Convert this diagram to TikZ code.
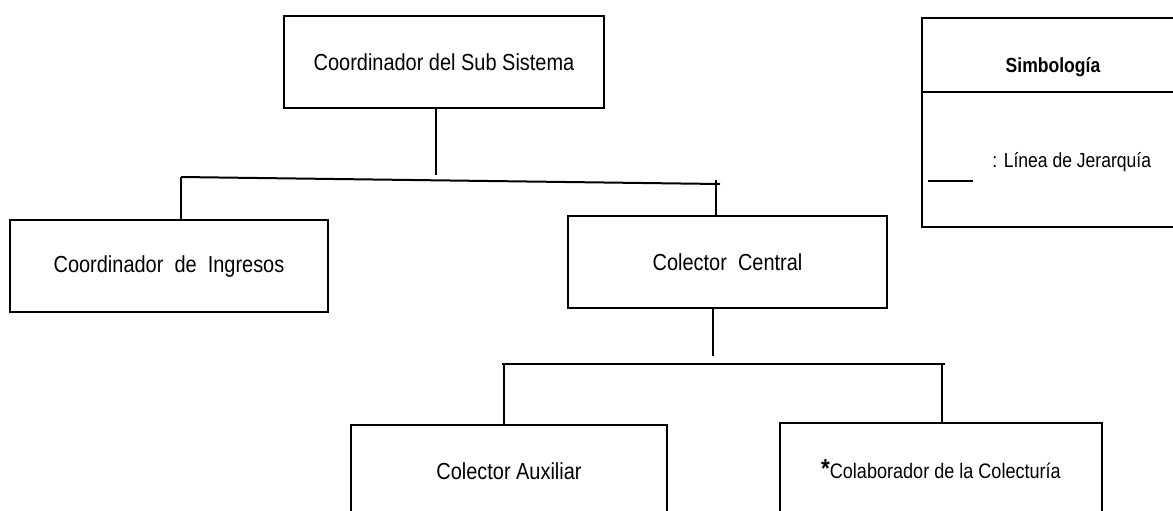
\documentclass[tikz,border=0pt]{standalone}
\usepackage{fontspec}
\setmainfont{Liberation Sans}[FakeStretch=0.86]
\usetikzlibrary{positioning}

\begin{document}
\begin{tikzpicture}[x=0.5pt, y=-0.5pt,
  unidad/.style={draw, line width=1pt, minimum width=160pt, minimum height=46pt,
                 inner sep=0pt, font=\fontsize{11.6}{13}\selectfont},
  linea/.style={line width=1pt},
  ley/.style={font=\fontsize{10.2}{12}\selectfont, inner sep=0pt}
]
\clip (0,0) rectangle (1173,510);
\fill[white] (0,0) rectangle (1173,510);

% unidades
\node[unidad] (sub) at (444,62) {Coordinador del Sub Sistema};
\node[unidad, minimum width=159pt] (ingresos) at (169,266) {Coordinador\ \ de\ \ Ingresos};
\node[unidad, minimum width=159.5pt] (central) at (727.5,262) {Colector\ \ Central};
\node[unidad, minimum width=158pt] (auxiliar) at (509,471) {Colector Auxiliar};
\node[unidad, minimum width=161pt] (colab) at (941,469)
  {\raisebox{0.5pt}{\fontsize{13}{13}\selectfont\bfseries *}\fontsize{10.5}{13}\selectfont Colaborador de la Colecturía};

% lineas de jerarquia
\coordinate (t1) at (436,175);
\coordinate (bi) at (181,177);
\coordinate (bd) at (720,184);
\coordinate (ti) at (716,180);
\draw[linea] (sub.south -| t1) -- (t1);
\draw[linea] (bi) -- (bd);
\draw[linea] (bi) -- (bi |- ingresos.north);
\draw[linea] (ti) -- (ti |- central.north);

\coordinate (t2) at (713,356);
\coordinate (ci) at (502,364);
\coordinate (cd) at (945,364);
\coordinate (va) at (504,364);
\coordinate (vc) at (942,364);
\draw[linea] (central.south -| t2) -- (t2);
\draw[linea] (ci) -- (cd);
\draw[linea] (va) -- (va |- auxiliar.north);
\draw[linea] (vc) -- (vc |- colab.north);

% simbologia
\node[draw, line width=1pt, minimum width=131pt, minimum height=104.5pt] (simb) at (1053,122.5) {};
\node[ley, font=\fontsize{10.2}{12}\selectfont\bfseries] (titulo) at (1053,67) {Simbología};
\coordinate (di) at (922,92);
\draw[linea] (di) -- (di -| simb.east);
\draw[linea] (928,181) -- (973,181);
\node[ley, anchor=west] (jer) at (992,162) {: Línea de Jerarquía};

\end{tikzpicture}
\end{document}
